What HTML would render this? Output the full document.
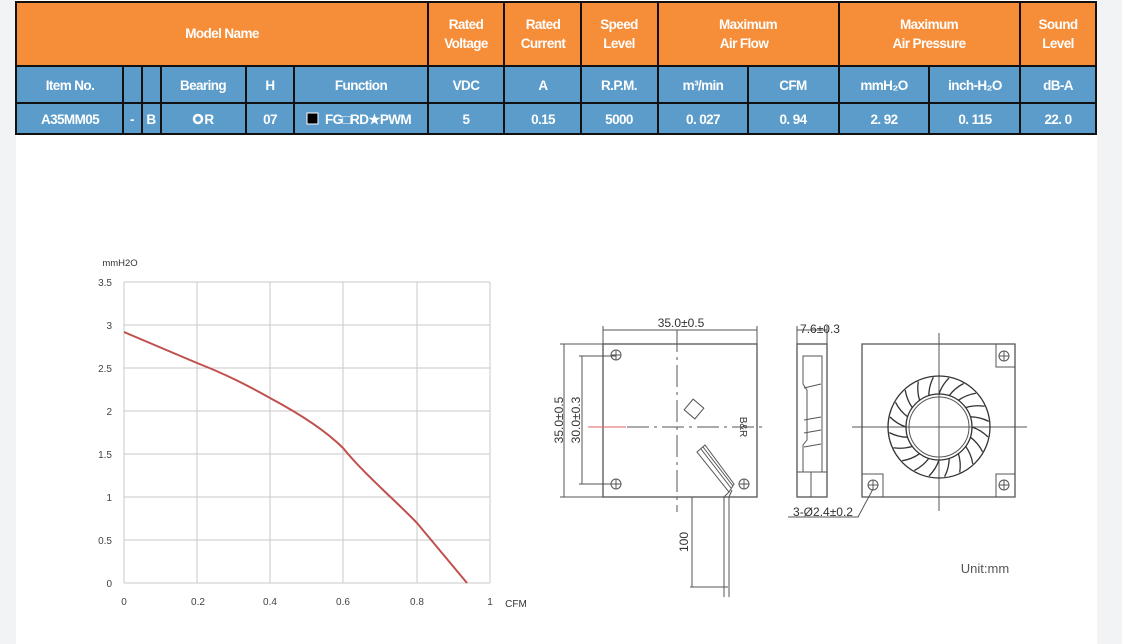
<!DOCTYPE html>
<html><head><meta charset="utf-8"><style>
html,body{margin:0;padding:0;background:#f2f3f5;}
svg{display:block;}
.h{font-family:"Liberation Sans",sans-serif;font-weight:bold;fill:#fff;font-size:13.5px;text-anchor:middle;letter-spacing:-0.6px}
.t{font-family:"Liberation Sans",sans-serif;fill:#444;font-size:10px;text-anchor:middle}
.d{font-family:"Liberation Sans",sans-serif;fill:#333;font-size:12px;text-anchor:middle}
</style></head><body>
<svg width="1122" height="644" viewBox="0 0 1122 644" xmlns="http://www.w3.org/2000/svg">
<defs>
<path id="bl" d="M0,-33 Q3,-42 10,-49" fill="none" stroke="#333" stroke-width="1.3"/>
</defs>
<rect x="16" y="0" width="1081" height="644" fill="#fff"/>
<!-- table -->
<rect x="16" y="2" width="1080" height="64" fill="#f68d38"/>
<rect x="16" y="66" width="1080" height="68" fill="#5b9ccb"/>
<g stroke="#111" stroke-width="2" fill="none">
<rect x="16" y="2" width="1080" height="132"/>
<line x1="16" y1="66" x2="1096" y2="66"/>
<line x1="16" y1="103" x2="1096" y2="103"/>
<line x1="428" y1="2" x2="428" y2="134"/><line x1="504" y1="2" x2="504" y2="134"/>
<line x1="581" y1="2" x2="581" y2="134"/><line x1="658" y1="2" x2="658" y2="134"/>
<line x1="839" y1="2" x2="839" y2="134"/><line x1="1020" y1="2" x2="1020" y2="134"/>
<line x1="748" y1="66" x2="748" y2="134"/><line x1="929" y1="66" x2="929" y2="134"/>
<line x1="123" y1="66" x2="123" y2="134"/><line x1="142" y1="66" x2="142" y2="134"/>
<line x1="161" y1="66" x2="161" y2="134"/><line x1="246" y1="66" x2="246" y2="134"/>
<line x1="294" y1="66" x2="294" y2="134"/>
</g>
<g class="h">
<text x="222" y="38">Model Name</text>
<text x="466" y="29">Rated</text><text x="466" y="48">Voltage</text>
<text x="543" y="29">Rated</text><text x="543" y="48">Current</text>
<text x="619" y="29">Speed</text><text x="619" y="48">Level</text>
<text x="748" y="29">Maximum</text><text x="744" y="48">Air Flow</text>
<text x="929" y="29">Maximum</text><text x="929" y="48">Air Pressure</text>
<text x="1058" y="29">Sound</text><text x="1058" y="48">Level</text>
<text x="70" y="90">Item No.</text><text x="203" y="90">Bearing</text><text x="270" y="90">H</text>
<text x="361" y="90">Function</text><text x="466" y="90">VDC</text><text x="543" y="90">A</text>
<text x="619" y="90">R.P.M.</text><text x="703" y="90">m³/min</text><text x="793" y="90">CFM</text>
<text x="884" y="90">mmH₂O</text><text x="975" y="90">inch-H₂O</text><text x="1058" y="90">dB-A</text>
<text x="70" y="124">A35MM05</text><text x="132" y="124">-</text><text x="151" y="124">B</text>
<text x="209" y="124">R</text><text x="270" y="124">07</text>
<text x="368" y="124">FG□RD★PWM</text>
<text x="466" y="124">5</text><text x="543" y="124">0.15</text><text x="619" y="124">5000</text>
<text x="703" y="124">0. 027</text><text x="793" y="124">0. 94</text><text x="884" y="124">2. 92</text>
<text x="975" y="124">0. 115</text><text x="1058" y="124">22. 0</text>
</g>
<circle cx="198" cy="119" r="4" fill="none" stroke="#fff" stroke-width="2.5"/>
<rect x="307" y="113" width="11" height="11" fill="#000" stroke="#fff" stroke-width="1"/>
<!-- chart -->
<g stroke="#c8c8c8" stroke-width="1">
<line x1="124" y1="282" x2="490" y2="282"/><line x1="124" y1="325" x2="490" y2="325"/>
<line x1="124" y1="368" x2="490" y2="368"/><line x1="124" y1="411" x2="490" y2="411"/>
<line x1="124" y1="454" x2="490" y2="454"/><line x1="124" y1="497" x2="490" y2="497"/>
<line x1="124" y1="540" x2="490" y2="540"/><line x1="124" y1="583" x2="490" y2="583"/>
<line x1="124" y1="282" x2="124" y2="583"/><line x1="197" y1="282" x2="197" y2="583"/>
<line x1="270" y1="282" x2="270" y2="583"/><line x1="343" y1="282" x2="343" y2="583"/>
<line x1="417" y1="282" x2="417" y2="583"/><line x1="490" y1="282" x2="490" y2="583"/>
</g>
<path d="M124,332 L197,363 C225,374 245,384 270,398 C300,414 325,430 343,448 C365,475 395,500 417,523 L467,583" fill="none" stroke="#c0504d" stroke-width="2"/>
<g class="t">
<text x="120" y="266" style="font-size:9.5px;fill:#333">mmH2O</text>
<g style="text-anchor:end"><text x="112" y="286">3.5</text><text x="112" y="329">3</text><text x="112" y="372">2.5</text>
<text x="112" y="415">2</text><text x="112" y="458">1.5</text><text x="112" y="501">1</text><text x="112" y="544">0.5</text><text x="112" y="587">0</text></g>
<text x="124" y="605">0</text><text x="198" y="605">0.2</text><text x="270" y="605">0.4</text><text x="343" y="605">0.6</text>
<text x="417" y="605">0.8</text><text x="490" y="605">1</text><text x="516" y="607" style="font-size:10px;fill:#333">CFM</text>
</g>
<!-- drawing -->
<g stroke="#555" stroke-width="1" fill="none">
<rect x="603" y="344" width="154" height="153" stroke-width="1.3"/>
<line x1="603" y1="330" x2="757" y2="330"/><line x1="603" y1="326" x2="603" y2="344"/><line x1="757" y1="326" x2="757" y2="344"/>
<line x1="564" y1="344" x2="564" y2="497"/><line x1="560" y1="344" x2="603" y2="344"/><line x1="560" y1="497" x2="603" y2="497"/>
<line x1="582" y1="356" x2="582" y2="484"/><line x1="579" y1="356" x2="616" y2="356"/><line x1="579" y1="484" x2="616" y2="484"/>
<circle cx="616" cy="355" r="5"/><circle cx="616" cy="484" r="5"/><circle cx="744" cy="484" r="5"/>
<line x1="616" y1="350" x2="616" y2="360"/><line x1="611" y1="355" x2="621" y2="355"/>
<line x1="616" y1="479" x2="616" y2="489"/><line x1="611" y1="484" x2="621" y2="484"/>
<line x1="744" y1="479" x2="744" y2="489"/><line x1="739" y1="484" x2="749" y2="484"/>
<line x1="677" y1="330" x2="677" y2="512" stroke-dasharray="22,5,3,5"/>
<line x1="627" y1="427" x2="765" y2="427" stroke-dasharray="22,5,3,5"/>
<line x1="588" y1="427" x2="626" y2="427" stroke="#e06060"/>
<rect x="687" y="402" width="14" height="14" transform="rotate(40 694 409)"/>
<path d="M697,452 L705,445 L734,484 L729,492 Z"/>
<path d="M701,449 L731,488 M703,447 L733,486"/>
<path d="M729,492 L724,497 L724,597 M732,490 L729,497 L729,597"/>
<line x1="692" y1="497" x2="692" y2="587"/><line x1="690" y1="587" x2="728" y2="587"/>
<!-- side view -->
<rect x="797" y="344" width="30" height="153" stroke-width="1.3"/>
<line x1="797" y1="330" x2="827" y2="330"/><line x1="797" y1="326" x2="797" y2="344"/><line x1="827" y1="326" x2="827" y2="344"/>
<path d="M803,356 L822,356 L822,472 L803,472 L803,445 L807,440 L807,390 L803,384 Z"/>
<line x1="797" y1="472" x2="827" y2="472"/><line x1="811" y1="472" x2="811" y2="497"/>
<path d="M804,388 L821,384 M804,420 L821,417 M804,433 L821,430 M804,447 L821,444"/>
<!-- right view -->
<path d="M862,344 L1015,344 L1015,497 L862,497 Z" stroke-width="1.3"/>
<path d="M996,344 L996,367 L1015,367 M862,474 L883,474 L883,497 M996,497 L996,474 L1015,474"/>
<line x1="852" y1="427" x2="1027" y2="427"/><line x1="939" y1="333" x2="939" y2="511"/>
<circle cx="939" cy="427" r="51" stroke="#333" stroke-width="1.3"/>
<circle cx="939" cy="427" r="33" stroke="#333" stroke-width="1.3"/>
<circle cx="939" cy="427" r="30"/>
<circle cx="1004" cy="356" r="5"/><circle cx="873" cy="485" r="5"/><circle cx="1004" cy="485" r="5"/>
<line x1="1004" y1="351" x2="1004" y2="361"/><line x1="999" y1="356" x2="1009" y2="356"/>
<line x1="873" y1="480" x2="873" y2="490"/><line x1="868" y1="485" x2="878" y2="485"/>
<line x1="1004" y1="480" x2="1004" y2="490"/><line x1="999" y1="485" x2="1009" y2="485"/>
<path d="M873,489 L858,517 L788,517"/>
</g>
<g transform="translate(939 427)">
<use href="#bl" transform="rotate(0)"/><use href="#bl" transform="rotate(18)"/><use href="#bl" transform="rotate(36)"/>
<use href="#bl" transform="rotate(54)"/><use href="#bl" transform="rotate(72)"/><use href="#bl" transform="rotate(90)"/>
<use href="#bl" transform="rotate(108)"/><use href="#bl" transform="rotate(126)"/><use href="#bl" transform="rotate(144)"/>
<use href="#bl" transform="rotate(162)"/><use href="#bl" transform="rotate(180)"/><use href="#bl" transform="rotate(198)"/>
<use href="#bl" transform="rotate(216)"/><use href="#bl" transform="rotate(234)"/><use href="#bl" transform="rotate(252)"/>
<use href="#bl" transform="rotate(270)"/><use href="#bl" transform="rotate(288)"/><use href="#bl" transform="rotate(306)"/>
<use href="#bl" transform="rotate(324)"/><use href="#bl" transform="rotate(342)"/>
</g>
<g class="d">
<text x="681" y="327">35.0±0.5</text>
<text x="820" y="333">7.6±0.3</text>
<text x="823" y="516">3-Ø2.4±0.2</text>
<text x="0" y="0" transform="translate(563 420) rotate(-90)">35.0±0.5</text>
<text x="0" y="0" transform="translate(580 420) rotate(-90)">30.0±0.3</text>
<text x="0" y="0" transform="translate(688 542) rotate(-90)">100</text>
<text x="0" y="0" transform="translate(740 427) rotate(90)" style="font-size:10px">B&amp;R</text>
<text x="985" y="573" style="font-size:13px;fill:#555">Unit:mm</text>
</g>
</svg>
</body></html>
